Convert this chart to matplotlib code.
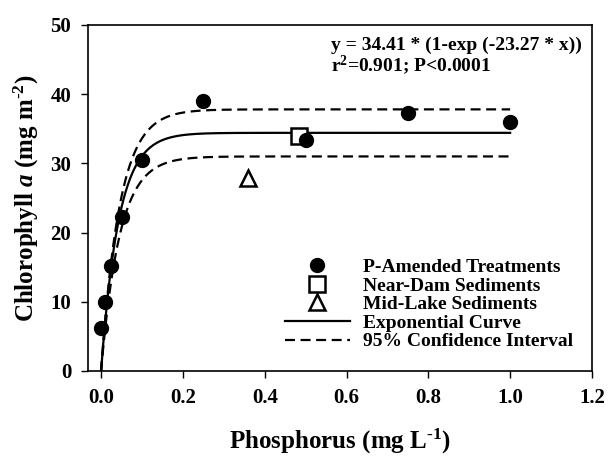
import numpy as np
import matplotlib
matplotlib.use("Agg")
import matplotlib.pyplot as plt
from matplotlib.lines import Line2D

# P-amended treatments
p_amended_x = [0.0, 0.01, 0.025, 0.05, 0.1, 0.25, 0.5, 0.75, 1.0]
p_amended_y = [6.2, 10.0, 15.2, 22.3, 30.5, 39.0, 33.4, 37.3, 36.0]

# sediment samples
near_dam_x, near_dam_y = [0.484], [34.0]
mid_lake_x, mid_lake_y = [0.36], [27.9]

# fitted curve y = a * (1 - exp(-b * x)) and approximate 95% CI bands
fit_a, fit_b = 34.41, 23.27
ci_upper_a, ci_upper_b = 37.8, 22.0
ci_lower_a, ci_lower_b = 31.0, 22.0
curve_range = (0.0, 1.0)

x_ticks = [0.0, 0.2, 0.4, 0.6, 0.8, 1.0, 1.2]
y_ticks = [0, 10, 20, 30, 40, 50]

plt.rcParams["font.family"] = ["Liberation Serif", "DejaVu Serif"]
plt.rcParams["font.weight"] = "bold"
plt.rcParams["mathtext.fontset"] = "custom"
plt.rcParams["mathtext.rm"] = "Liberation Serif:bold"
plt.rcParams["mathtext.it"] = "Liberation Serif:bold:italic"
plt.rcParams["mathtext.bf"] = "Liberation Serif:bold"

DASH = (4.5, 2.5)

fig = plt.figure(figsize=(6.09, 4.67), dpi=100)
ax = fig.add_axes([0.1445, 0.2056, 0.8275, 0.741])

xs = np.linspace(curve_range[0], curve_range[1], 400)
ax.plot(xs, fit_a * (1 - np.exp(-fit_b * xs)), color="black", lw=1.6)
ax.plot(xs, ci_upper_a * (1 - np.exp(-ci_upper_b * xs)), color="black", lw=1.6, dashes=DASH)
ax.plot(xs, ci_lower_a * (1 - np.exp(-ci_lower_b * xs)), color="black", lw=1.6, dashes=DASH)

ax.plot(p_amended_x, p_amended_y, "o", color="black", ms=10, zorder=5)
ax.plot(near_dam_x, near_dam_y, "s", mfc="white", mec="black", mew=1.8, ms=11, zorder=4)
ax.plot(mid_lake_x, mid_lake_y, "^", mfc="white", mec="black", mew=1.8, ms=12, zorder=4)

ax.set_xlim(-0.032, 1.2)
ax.set_ylim(0, 50)
ax.set_xticks(x_ticks)
ax.set_xticklabels([f"{v:.1f}" for v in x_ticks])
ax.set_yticks(y_ticks)
ax.tick_params(labelsize=15, direction="out", length=5, width=1, pad=7)
for sp in ax.spines.values():
    sp.set_linewidth(1.2)

ax.set_xlabel("Phosphorus (mg L$^{\\text{-1}}$)", fontsize=18, fontweight="bold", labelpad=14)
ax.set_ylabel("Chlorophyll $\\mathit{a}$ (mg m$^{\\text{-2}}$)", fontsize=18, fontweight="bold", labelpad=7)

ax.text(0.482, 0.94, "y = 34.41 * (1-exp (-23.27 * x))", transform=ax.transAxes,
        fontsize=14, fontweight="bold", va="center")
ax.text(0.482, 0.883, "r$^{\\text{2}}$=0.901; P<0.0001", transform=ax.transAxes,
        fontsize=14, fontweight="bold", va="center")

handles = [
    Line2D([], [], ls="none", marker="o", color="black", ms=10),
    Line2D([], [], ls="none", marker="s", mfc="white", mec="black", mew=1.8, ms=11),
    Line2D([], [], ls="none", marker="^", mfc="white", mec="black", mew=1.8, ms=12),
    Line2D([], [], color="black", lw=1.6),
    Line2D([], [], color="black", lw=1.6, dashes=DASH),
]
labels = ["P-Amended Treatments", "Near-Dam Sediments", "Mid-Lake Sediments",
          "Exponential Curve", "95% Confidence Interval"]
ax.legend(handles, labels, loc="lower right", bbox_to_anchor=(0.99, 0.02), frameon=False,
          handlelength=3.3, handletextpad=0.7, labelspacing=0.05, borderpad=0.2,
          prop={"weight": "bold", "size": 14})

fig.savefig("out.png", dpi=100)
